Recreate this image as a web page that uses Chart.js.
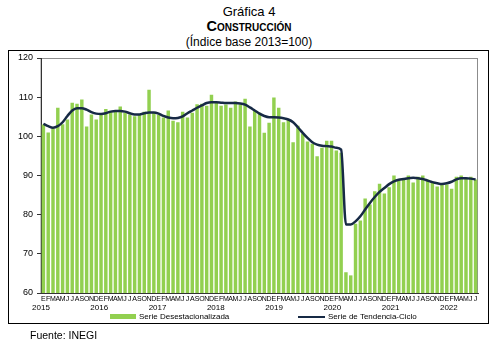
<!DOCTYPE html>
<html>
<head>
<meta charset="utf-8">
<script src="https://cdn.jsdelivr.net/npm/chart.js@4.4.0/dist/chart.umd.min.js"></script>
<style>
    body { margin: 0; width: 495px; height: 348px; background: #fff; position: relative; overflow: hidden;
           font-family: "Liberation Sans", Arial, sans-serif; color: #000; }
    .head { position: absolute; left: 0; width: 498px; text-align: center; white-space: nowrap; }
    #t1 { top: 4px; font-size: 13px; }
    #t2 { top: 18px; font-size: 14.5px; font-weight: bold; font-variant: small-caps; }
    #t3 { top: 35px; font-size: 12px; }
    #box { position: absolute; left: 8px; top: 50px; width: 479px; height: 272px; border: 1px solid #000; }
    #chart { position: absolute; left: 0; top: 0; }
    .leg { position: absolute; font-size: 8px; white-space: nowrap; }
    #fuente { position: absolute; left: 30px; top: 329px; font-size: 10.5px; }
</style>
</head>
<body>
<div id="t1" class="head">Gráfica 4</div>
<div id="t2" class="head">Construcción</div>
<div id="t3" class="head">(Índice base 2013=100)</div>
<div id="box"></div>
<canvas id="chart" width="495" height="348"></canvas>
<div class="leg" style="left:110px; top:314px; width:26px; height:5px; background:#92D050;"></div>
<div class="leg" style="left:139px; top:312px;">Serie Desestacionalizada</div>
<div class="leg" style="left:298px; top:316px; width:27px; height:2px; background:#172A45;"></div>
<div class="leg" style="left:328px; top:312px;">Serie de Tendencia-Ciclo</div>
<div id="fuente">Fuente: INEGI</div>

<script>
// Datos: enero 2015 - julio 2022
const years = ['2015', '2016', '2017', '2018', '2019', '2020', '2021', '2022'];
const months = ['E', 'F', 'M', 'A', 'M', 'J', 'J', 'A', 'S', 'O', 'N', 'D'];

const serieDesestacionalizada = [
    103.0, 101.0, 102.0, 107.3, 103.1, 104.3, 108.6, 108.3, 109.4, 102.5, 105.6, 104.3,
    105.6, 107.0, 106.2, 106.7, 107.6, 106.0, 105.6, 105.1, 105.5, 106.3, 111.9, 106.0,
    105.5, 104.8, 106.6, 104.0, 103.6, 106.3, 104.8, 106.0, 108.2, 108.3, 107.8, 110.6,
    108.5, 107.8, 108.1, 107.3, 108.9, 108.1, 109.6, 102.5, 106.6, 106.0, 100.9, 103.5,
    109.9, 107.3, 103.6, 104.4, 98.5, 102.7, 100.7, 98.7, 98.1, 94.9, 97.1, 98.9,
    98.9, 96.4, 95.8, 65.3, 64.5, 77.7, 78.5, 84.1, 82.6, 86.0, 87.9, 85.4,
    87.0, 90.0, 88.7, 89.0, 90.0, 88.2, 89.7, 90.0, 89.0, 88.2, 87.2, 87.9,
    87.7, 86.6, 89.7, 90.0, 89.2, 89.7, 89.0
];

const serieTendencia = [
    103.2, 102.6, 102.2, 102.6, 103.6, 105.2, 106.6, 107.2, 107.2, 106.8, 106.2, 105.8,
    105.7, 105.9, 106.3, 106.5, 106.5, 106.3, 105.9, 105.6, 105.6, 105.9, 106.1, 106.1,
    105.8, 105.2, 104.8, 104.6, 104.7, 105.1, 105.9, 106.6, 107.3, 107.9, 108.5, 108.7,
    108.7, 108.6, 108.5, 108.5, 108.5, 108.4, 108.1, 107.4, 106.6, 105.8, 105.2, 104.9,
    104.9, 104.8, 104.6, 104.3, 103.6, 102.3, 100.9, 99.6, 98.5, 97.9, 97.6, 97.5,
    97.4, 97.1, 96.6, 77.5, 77.5, 78.3, 79.6, 81.3, 83.0, 84.5, 85.8, 86.8,
    87.8, 88.5, 88.9, 89.1, 89.3, 89.4, 89.3, 89.1, 88.7, 88.3, 88.0, 87.8,
    88.0, 88.4, 89.0, 89.3, 89.3, 89.2, 89.0
];

// Una categoría por mes
const labels = serieDesestacionalizada.map((v, i) => months[i % 12]);

// Marco gris del área de trazado
const plotBorder = {
    id: 'plotBorder',
    beforeDraw(chart) {
        const { ctx, chartArea: a } = chart;
        ctx.save();
        ctx.strokeStyle = '#8c8c8c';
        ctx.lineWidth = 1;
        ctx.strokeRect(a.left, a.top + 0.5, a.right - a.left - 0.5, a.bottom - a.top);
        ctx.restore();
    }
};

const ctx = document.getElementById('chart').getContext('2d');
new Chart(ctx, {
    data: {
        labels: labels,
        datasets: [{
            type: 'line',
            label: 'Serie de Tendencia-Ciclo',
            data: serieTendencia,
            borderColor: '#172A45',
            borderWidth: 2.5,
            pointRadius: 0,
            cubicInterpolationMode: 'monotone',
            order: 0
        }, {
            type: 'bar',
            label: 'Serie Desestacionalizada',
            data: serieDesestacionalizada,
            backgroundColor: '#92D050',
            categoryPercentage: 1,
            barPercentage: 0.72,
            order: 1
        }]
    },
    options: {
        responsive: false,
        animation: false,
        devicePixelRatio: 1,
        layout: { padding: { left: 0, right: 17, top: 58, bottom: 0 } },
        plugins: {
            legend: { display: false },
            tooltip: { enabled: false }
        },
        scales: {
            x: {
                weight: 0,
                afterFit(scale) { scale.height = 10; },
                border: { color: '#333', width: 1 },
                grid: { display: false, drawTicks: false },
                ticks: {
                    autoSkip: false,
                    maxRotation: 0,
                    minRotation: 0,
                    padding: 2,
                    color: '#000',
                    font: { family: 'Liberation Sans', size: 7 }
                }
            },
            // Eje de años, debajo de las letras de los meses
            xYear: {
                type: 'category',
                position: 'bottom',
                weight: 1,
                afterFit(scale) { scale.height = 45; },
                border: { display: false },
                grid: { display: false, drawTicks: false },
                ticks: {
                    autoSkip: false,
                    maxRotation: 0,
                    minRotation: 0,
                    padding: 0,
                    color: '#000',
                    font: { family: 'Liberation Sans', size: 8 },
                    callback: (val, i) => (i % 12 === 0 ? years[i / 12] : '')
                }
            },
            y: {
                min: 60,
                max: 120,
                afterFit(scale) { scale.width = 41; },
                border: { color: '#333', width: 1 },
                grid: { drawOnChartArea: false, tickLength: 4, color: '#333' },
                ticks: {
                    stepSize: 10,
                    padding: 4,
                    color: '#000',
                    font: { family: 'Liberation Sans', size: 9 }
                }
            }
        }
    },
    plugins: [plotBorder]
});
</script>
</body>
</html>
